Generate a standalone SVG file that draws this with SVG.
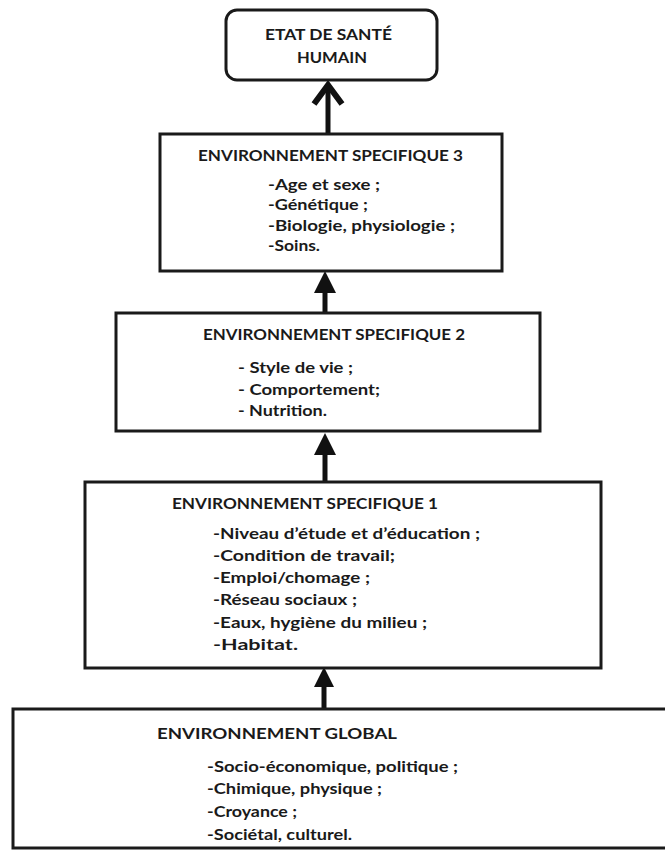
<svg xmlns="http://www.w3.org/2000/svg" width="665" height="850" viewBox="0 0 665 850">
<style>
.box{fill:#fff;stroke:#1a1a1a;stroke-width:3}
text{font-family:Lato,"Liberation Sans",Arial,sans-serif;font-weight:bold;font-size:15.5px;fill:#1a1a1a}
.shaft{stroke:#111;stroke-width:5;fill:none}
.head{fill:#111}
</style>
<rect width="665" height="850" fill="#fff"/>
<g id="connectors">
  <line class="shaft" x1="328" y1="134" x2="328" y2="86"/>
  <polyline points="314,104 328,85 342,104" fill="none" stroke="#111" stroke-width="6" stroke-linejoin="miter"/>
  <line class="shaft" x1="325" y1="313" x2="325" y2="290"/>
  <polygon class="head" points="325,271 336,293 314,293"/>
  <line class="shaft" x1="325" y1="482" x2="325" y2="452"/>
  <polygon class="head" points="325,433 336,455 314,455"/>
  <line class="shaft" x1="324" y1="709" x2="324" y2="684"/>
  <polygon class="head" points="324,667 334,687 314,687"/>
</g>
<g id="etat">
  <rect class="box" x="226" y="10" width="211" height="70" rx="11"/>
  <text x="265" y="40" textLength="127" lengthAdjust="spacingAndGlyphs">ETAT DE SANTÉ</text>
  <text x="297" y="63" textLength="70" lengthAdjust="spacingAndGlyphs">HUMAIN</text>
</g>
<g id="env3">
  <rect class="box" x="160" y="134" width="342" height="137"/>
  <text x="198" y="161" textLength="265" lengthAdjust="spacingAndGlyphs">ENVIRONNEMENT SPECIFIQUE 3</text>
  <text x="268" y="190" textLength="112" lengthAdjust="spacingAndGlyphs">-Age et sexe ;</text>
  <text x="268" y="210" textLength="100" lengthAdjust="spacingAndGlyphs">-Génétique ;</text>
  <text x="268" y="231" textLength="187" lengthAdjust="spacingAndGlyphs">-Biologie,  physiologie ;</text>
  <text x="268" y="251" textLength="52" lengthAdjust="spacingAndGlyphs">-Soins.</text>
</g>
<g id="env2">
  <rect class="box" x="116" y="313" width="424" height="118"/>
  <text x="203" y="340" textLength="262" lengthAdjust="spacingAndGlyphs">ENVIRONNEMENT SPECIFIQUE 2</text>
  <text x="238" y="373" textLength="115" lengthAdjust="spacingAndGlyphs">- Style de vie ;</text>
  <text x="238" y="395" textLength="142" lengthAdjust="spacingAndGlyphs">- Comportement;</text>
  <text x="238" y="416" textLength="89" lengthAdjust="spacingAndGlyphs">- Nutrition.</text>
</g>
<g id="env1">
  <rect class="box" x="85" y="482" width="516" height="186"/>
  <text x="172" y="509" textLength="266" lengthAdjust="spacingAndGlyphs">ENVIRONNEMENT SPECIFIQUE 1</text>
  <text x="213" y="539" textLength="267" lengthAdjust="spacingAndGlyphs">-Niveau d’étude et d’éducation ;</text>
  <text x="213" y="561" textLength="182" lengthAdjust="spacingAndGlyphs">-Condition de travail;</text>
  <text x="213" y="583" textLength="157" lengthAdjust="spacingAndGlyphs">-Emploi/chomage ;</text>
  <text x="213" y="605" textLength="144" lengthAdjust="spacingAndGlyphs">-Réseau sociaux ;</text>
  <text x="213" y="628" textLength="214" lengthAdjust="spacingAndGlyphs">-Eaux, hygiène du milieu ;</text>
  <text x="213" y="650" textLength="85" lengthAdjust="spacingAndGlyphs">-Habitat.</text>
</g>
<g id="global">
  <rect class="box" x="13" y="709" width="660" height="139"/>
  <text x="157" y="739" textLength="240" lengthAdjust="spacingAndGlyphs">ENVIRONNEMENT GLOBAL</text>
  <text x="207" y="772" textLength="251" lengthAdjust="spacingAndGlyphs">-Socio-économique, politique ;</text>
  <text x="207" y="794" textLength="175" lengthAdjust="spacingAndGlyphs">-Chimique, physique ;</text>
  <text x="207" y="817" textLength="90" lengthAdjust="spacingAndGlyphs">-Croyance ;</text>
  <text x="207" y="840" textLength="145" lengthAdjust="spacingAndGlyphs">-Sociétal, culturel.</text>
</g>
</svg>
